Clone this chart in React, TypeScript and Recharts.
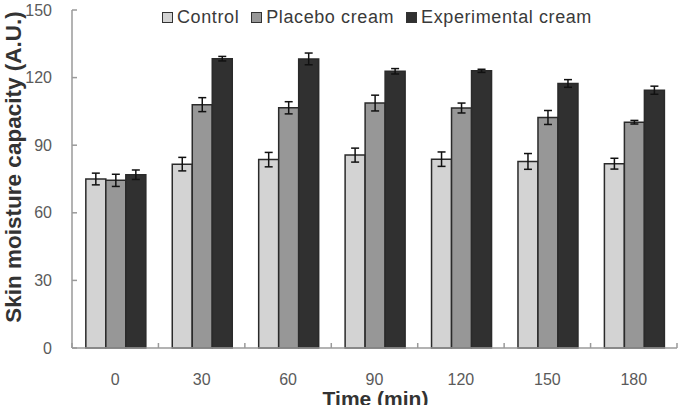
import { BarChart, Bar, XAxis, YAxis, ErrorBar, Label } from 'recharts';

// Skin moisture capacity over time, mean ± SD
const times = ['0', '30', '60', '90', '120', '150', '180'];
const control = [75.0, 81.6, 83.6, 85.6, 83.8, 82.8, 81.8];
const controlErr = [2.6, 3.0, 3.2, 3.1, 3.2, 3.5, 2.4];
const placebo = [74.4, 108.0, 106.6, 108.7, 106.5, 102.3, 100.2];
const placeboErr = [2.7, 3.1, 2.7, 3.5, 2.2, 3.1, 0.8];
const experimental = [76.9, 128.4, 128.3, 122.8, 123.0, 117.4, 114.4];
const experimentalErr = [2.1, 1.0, 2.6, 1.2, 0.7, 1.7, 1.8];
const yTicks = [0, 30, 60, 90, 120, 150];

const series = [
  { key: 'control', err: 'controlErr', name: 'Control', fill: '#d3d3d3' },
  { key: 'placebo', err: 'placeboErr', name: 'Placebo cream', fill: '#979797' },
  { key: 'experimental', err: 'experimentalErr', name: 'Experimental cream', fill: '#303030' },
];

const data = times.map((t, i) => ({
  time: t,
  control: control[i],
  controlErr: controlErr[i],
  placebo: placebo[i],
  placeboErr: placeboErr[i],
  experimental: experimental[i],
  experimentalErr: experimentalErr[i],
}));

const FONT = '"Liberation Sans", Arial, sans-serif';
const AXIS_COLOR = '#9a9a9a';

function XTick(props: any) {
  const { x, y, payload } = props;
  const half = payload.offset ?? 43.3;
  return (
    <g>
      <line x1={x + half} x2={x + half} y1={y} y2={y - 5} stroke={AXIS_COLOR} strokeWidth={1.5} />
      {payload.index === 0 && (
        <line x1={x - half} x2={x - half} y1={y} y2={y - 5} stroke={AXIS_COLOR} strokeWidth={1.5} />
      )}
      <text x={x} y={y + 37} textAnchor="middle" fontSize={16} fill="#5a5a5a" fontFamily={FONT}>
        {payload.value}
      </text>
    </g>
  );
}

function YTick(props: any) {
  const { x, y, payload } = props;
  return (
    <g>
      <line x1={x} x2={x + 5} y1={y} y2={y} stroke={AXIS_COLOR} strokeWidth={1.5} />
      <text x={x - 20} y={y} dy="0.35em" textAnchor="end" fontSize={16} fill="#5a5a5a" fontFamily={FONT}>
        {payload.value}
      </text>
    </g>
  );
}

function YTitle(props: any) {
  const { viewBox } = props;
  const cy = viewBox.y + viewBox.height / 2 - 12;
  return (
    <text
      x={21}
      y={cy}
      transform={`rotate(-90 21 ${cy})`}
      textAnchor="middle"
      fontSize={22.5}
      fontWeight="bold"
      fill="#333"
      fontFamily={FONT}
    >
      Skin moisture capacity (A.U.)
    </text>
  );
}

function XTitle(props: any) {
  const { viewBox } = props;
  return (
    <text
      x={viewBox.x + viewBox.width / 2 + 1}
      y={viewBox.y + 58}
      textAnchor="middle"
      fontSize={21}
      fontWeight="bold"
      fill="#333"
      fontFamily={FONT}
    >
      Time (min)
    </text>
  );
}

function LegendBox() {
  return (
    <div
      style={{
        position: 'absolute',
        top: 7,
        left: 162,
        display: 'flex',
        alignItems: 'center',
        fontFamily: FONT,
        fontSize: 18,
        letterSpacing: 0.6,
        color: '#3a3a3a',
        whiteSpace: 'nowrap',
      }}
    >
      {series.map((s) => (
        <div key={s.key} style={{ display: 'flex', alignItems: 'center', marginRight: 12 }}>
          <span
            style={{
              width: 9,
              height: 9,
              background: s.fill,
              border: '1px solid #333',
              marginRight: 4,
              display: 'inline-block',
            }}
          />
          {s.name}
        </div>
      ))}
    </div>
  );
}

export default function App() {
  return (
    <div style={{ position: 'absolute', left: 0, top: 0, width: 686, height: 405, background: '#fff' }}>
      <BarChart
        width={686}
        height={405}
        data={data}
        margin={{ top: 10, right: 9, left: 0, bottom: 0 }}
        barCategoryGap="16%"
        barGap={0}
      >
        <XAxis
          dataKey="time"
          height={57}
          stroke={AXIS_COLOR}
          strokeWidth={1.5}
          tickLine={false}
          tickSize={0}
          tickMargin={0}
          tick={<XTick />}
          interval={0}
        >
          <Label content={<XTitle />} />
        </XAxis>
        <YAxis
          width={72}
          domain={[0, 150]}
          ticks={yTicks}
          stroke={AXIS_COLOR}
          strokeWidth={1.5}
          tickLine={false}
          tickSize={0}
          tickMargin={0}
          tick={<YTick />}
          interval={0}
        >
          <Label content={<YTitle />} />
        </YAxis>
        {series.map((s) => (
          <Bar
            key={s.key}
            dataKey={s.key}
            name={s.name}
            fill={s.fill}
            stroke="#2a2a2a"
            strokeWidth={1.5}
            isAnimationActive={false}
          >
            <ErrorBar dataKey={s.err} width={4} stroke="#111" strokeWidth={1.5} />
          </Bar>
        ))}
      </BarChart>
      <LegendBox />
    </div>
  );
}
